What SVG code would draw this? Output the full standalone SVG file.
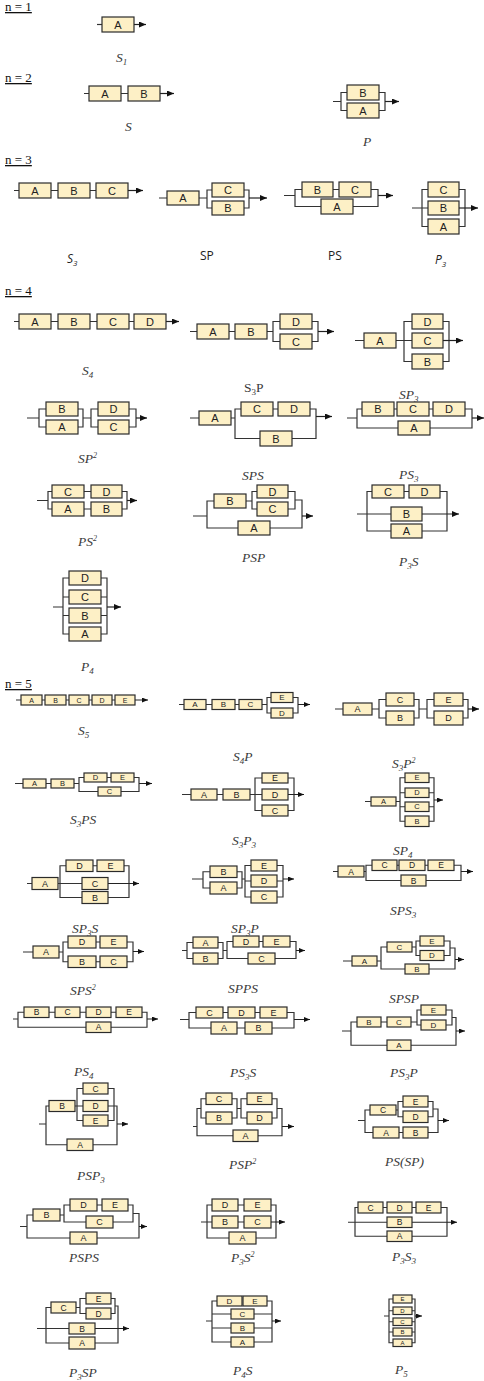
<svg xmlns="http://www.w3.org/2000/svg" width="484" height="1381" viewBox="0 0 484 1381">
<style>
.nodes rect{fill:#fdf0c6;stroke:#2b2b2b;stroke-width:1.2}
.nodes text{font-family:"Liberation Sans",Arial,sans-serif;fill:#222;text-anchor:middle;dominant-baseline:central}
.f11 text{font-size:11px}.f9 text{font-size:9px}.f85 text{font-size:8.5px}.f8 text{font-size:8px}.f75 text{font-size:7.5px}.f7 text{font-size:7px}.f6 text{font-size:6px}
.w{fill:none;stroke:#333;stroke-width:1.2}
.a{fill:none;stroke:#222;stroke-width:1.2;marker-end:url(#ah)}
.as{fill:none;stroke:#222;stroke-width:1;marker-end:url(#ahs)}
.lab{font-family:"Liberation Serif","Times New Roman",serif;font-style:italic;font-size:13.5px;fill:#3a3a3a}
.up{font-style:normal}
.hd{font-family:"Liberation Serif","Times New Roman",serif;font-size:13px;fill:#111;text-decoration:underline}
.sl{font-family:"Open Sans","Liberation Sans",sans-serif;font-size:12px;fill:#222}
.it{font-style:italic}
</style>
<defs>
<marker id="ah" markerUnits="userSpaceOnUse" markerWidth="7" markerHeight="6" refX="7" refY="3" orient="auto"><path d="M0,0L7,3L0,6z" fill="#111"/></marker>
<marker id="ahs" markerUnits="userSpaceOnUse" markerWidth="6" markerHeight="5" refX="6" refY="2.5" orient="auto"><path d="M0,0L6,2.5L0,5z" fill="#111"/></marker>
</defs>
<g id="headings">
<text class="hd" x="5" y="11">n = 1</text>
<text class="hd" x="5" y="82">n = 2</text>
<text class="hd" x="5" y="164">n = 3</text>
<text class="hd" x="5" y="295">n = 4</text>
<text class="hd" x="5" y="688">n = 5</text>
</g>
<g id="connectors">
<g id="c-n1-S1"><path class="w" d="M97,24.5H102"/><path class="a" d="M134,24.5H146"/></g>
<g id="c-n2-S"><path class="w" d="M84,93.5H89M121,93.5H128"/><path class="a" d="M160,93.5H174"/></g>
<g id="c-n2-P"><path class="w" d="M333,101.5H341M347,92.5H341V110.5H347M379,92.5H385V110.5H379"/><path class="a" d="M385,101.5H399"/></g>
<g id="c-n3-S3"><path class="w" d="M14,190.5H19M51,190.5H58M90,190.5H96"/><path class="a" d="M128,190.5H143"/></g>
<g id="c-n3-SP"><path class="w" d="M159,198H167M199,198H207M212,190H207V208H212M244,190H249V208H244"/><path class="a" d="M249,198H267"/></g>
<g id="c-n3-PS"><path class="w" d="M284,195.5H295M302,189.5H295V206.5H321M333,189.5H339M371,189.5H378V206.5H353"/><path class="a" d="M378,195.5H393"/></g>
<g id="c-n3-P3"><path class="w" d="M412,208H428M428,189.5H422V226.5H428M459,189.5H465V226.5H459"/><path class="a" d="M459,208H478"/></g>
<g id="c-n4-S4"><path class="w" d="M14,321.5H19M51,321.5H58M90,321.5H97M129,321.5H134"/><path class="a" d="M166,321.5H179"/></g>
<g id="c-n4-S3P"><path class="w" d="M190,331.5H197M229,331.5H235M267,331.5H273M280,321.5H273V341.5H280M312,321.5H318V341.5H312"/><path class="a" d="M318,331.5H334"/></g>
<g id="c-n4-SP3"><path class="w" d="M355,340.5H364M396,340.5H412M412,321.5H404V361.5H412M443,321.5H449V361.5H443"/><path class="a" d="M443,340.5H463"/></g>
<g id="c-n4-SP2"><path class="w" d="M27,418H39M46,409H39V427H46M78,409H83V427H78M83,418H91M98,409H91V427H98M129,409H136V427H129"/><path class="a" d="M136,418H147"/></g>
<g id="c-n4-r2c2"><path class="w" d="M190,418H199M231,418H235M241,409H235V438.5H260M273,409H278M310,409H316V438.5H292"/><path class="a" d="M316,416.5H332"/></g>
<g id="c-n4-r2c3"><path class="w" d="M347,418H357M362,409H357V428H398M394,409H397M429,409H433M465,409H472V428H430"/><path class="a" d="M472,418H484"/></g>
<g id="c-n4-PS2"><path class="w" d="M37,500.5H48M52,491.5H48V509H52M84,491.5H91M84,509H91M122,491.5H127V509H122"/><path class="a" d="M127,500.5H137"/></g>
<g id="c-n4-SPS"><path class="w" d="M193,516H207M214,501H207V528H238M246,501H252M257,491.5H252V509H257M288,491.5H295V509H288M295,500H302V528H270"/><path class="a" d="M302,516H313"/></g>
<g id="c-n4-PS3"><path class="w" d="M357,514H391M372,491.5H367V531H391M404,491.5H409M440,491.5H447V531H422"/><path class="a" d="M422,514H459"/></g>
<g id="c-n4-P4"><path class="w" d="M53,607H63M69,578H63V634H69M63,597H69M63,615.5H69M101,578H107V634H101M101,597H107M101,615.5H107"/><path class="a" d="M107,607H121"/></g>
<g id="c-n5-S5"><path class="w" d="M16,700H21M42,700H45M66,700H69M89,700H92M112,700H115"/><path class="as" d="M135,700H148"/></g>
<g id="c-n5-S4P"><path class="w" d="M179,704.5H184M206,704.5H212M235,704.5H239M262,704.5H267M271,697.5H267V713H271M293,697.5H298V713H293"/><path class="as" d="M298,704.5H310"/></g>
<g id="c-n5-r1c3"><path class="w" d="M335,709H343M372,709H379M386,699.5H379V718H386M414,699.5H419V718H414M419,709H427M434,699.5H427V718H434M463,699.5H468V718H463"/><path class="a" d="M468,709H479"/></g>
<g id="c-n5-S3PS"><path class="w" d="M15,783.5H23M46,783.5H51M74,783.5H79M84,777.5H79V791.5H98M107,777.5H111M134,777.5H139V791.5H121"/><path class="as" d="M139,783.5H152"/></g>
<g id="c-n5-S3P3"><path class="w" d="M182,794.5H191M217,794.5H223M250,794.5H262M262,778H255V810.5H262M288,778H294V810.5H288"/><path class="as" d="M288,794.5H304"/></g>
<g id="c-n5-S3P2"><path class="w" d="M365,801.5H371M396,801.5H400M405,777.75H400V821.25H405M400,792.75H405M400,806.75H405M429,777.75H434V821.25H429M429,792.75H434M429,806.75H434"/><path class="as" d="M434,800H443"/></g>
<g id="c-n5-SP3S"><path class="w" d="M27,883.5H32M58,883.5H82M66,865.75H60V897.5H82M93,865.75H97M124,865.75H129V897.5H108"/><path class="as" d="M108,883.5H139"/></g>
<g id="c-n5-SP3P"><path class="w" d="M192,879H203M210,871.75H203V888H210M237,871.75H242V888H237M242,879H245M251,865.5H245V897H251M245,881H251M277,865.5H283V897H277M277,881H283"/><path class="as" d="M283,879H294"/></g>
<g id="c-n5-SPS3"><path class="w" d="M333,871.5H338M364,871.5H366M372,865.25H366V880.5H401M397,865.25H399M425,865.25H428M454,865.25H461V880.5H426"/><path class="as" d="M461,871.5H473"/></g>
<g id="c-n5-SPS2"><path class="w" d="M23,952H33M59,952H63M68,942H63V961.75H68M96,942H100M96,961.75H100M127,942H133V961.75H127"/><path class="as" d="M133,951.5H144"/></g>
<g id="c-n5-SPPS"><path class="w" d="M182,950.5H187M193,942.5H187V958.5H193M218,942.5H223V958.5H218M223,950.5H227M233,941.5H227V958.5H248M259,941.5H263M290,941.5H296V958.5H275"/><path class="as" d="M296,950.5H305"/></g>
<g id="c-n5-SPSP"><path class="w" d="M343,961H352M377,961H381M387,947H381V969H405M412,947H416M420,941H416V955.5H420M444,941H450V955.5H444M450,948H455V969H429"/><path class="as" d="M455,959.5H464"/></g>
<g id="c-n5-PS4"><path class="w" d="M13,1019H18M24,1012.25H18V1027.25H86M49,1012.25H55M80,1012.25H86M111,1012.25H116M142,1012.25H147V1027.25H111"/><path class="as" d="M147,1019H158"/></g>
<g id="c-n5-PS3S"><path class="w" d="M180,1019.5H189M196,1012.5H189V1028H211M223,1012.5H228M255,1012.5H260M237,1028H245M287,1012.5H294V1028H272"/><path class="as" d="M294,1019.5H310"/></g>
<g id="c-n5-PS3P"><path class="w" d="M342,1031H351M357,1022H351V1045.25H387M381,1022H387M411,1022H417M421,1010H417V1025H421M446,1010H452V1025H446M452,1017.5H456V1045.25H411"/><path class="as" d="M456,1031H465"/></g>
<g id="c-n5-PSP3"><path class="w" d="M39,1124H46M49,1106H46V1144.75H67M75,1106H83M83,1088.5H77V1120.5H83M108,1088.5H114V1120.5H108M108,1106H117V1144.75H93"/><path class="as" d="M117,1124H128"/></g>
<g id="c-n5-PSP2"><path class="w" d="M193,1126.5H197M201,1108.5H197V1135.75H233M206,1098.75H201V1118H206M232,1098.75H237V1118H232M237,1108.5H241M247,1098.75H241V1118H247M272,1098.75H277V1118H272M277,1108.5H282V1135.75H258"/><path class="as" d="M282,1126.5H294"/></g>
<g id="c-n5-PSSP"><path class="w" d="M358,1120.5H365M370,1110H365V1132.5H373M396,1110H398M403,1101.5H398V1116.75H403M428,1101.5H433V1116.75H428M433,1109H438V1132.5H428M399,1132.5H403"/><path class="as" d="M438,1120.5H449"/></g>
<g id="c-n5-PSPS"><path class="w" d="M20,1226.5H27M33,1215H27V1238H70M60,1215H64M70,1205H64V1222H86M97,1205H102M128,1205H133V1222H113M133,1213.5H139V1238H97"/><path class="as" d="M139,1226.5H147"/></g>
<g id="c-n5-P3S2"><path class="w" d="M201,1222H212M212,1205H207V1238H229M238,1205H244M238,1222H244M271,1205H276V1238H256"/><path class="as" d="M271,1222H285"/></g>
<g id="c-n5-P3S3"><path class="w" d="M348,1222.25H387M358,1207.5H355V1236.25H387M383,1207.5H387M412,1207.5H416M441,1207.5H447V1236.25H412"/><path class="as" d="M412,1222.25H457"/></g>
<g id="c-n5-P3SP"><path class="w" d="M37,1328.5H69M51,1307.5H46V1343H69M76,1307.5H80M86,1298.5H80V1313.5H86M111,1298.5H115V1313.5H111M115,1306H118V1343H95"/><path class="as" d="M95,1328.5H129"/></g>
<g id="c-n5-P4S"><path class="w" d="M206,1321H212M217,1301H212V1342H231M212,1314H231M212,1328H231M267,1301H272V1342H254M254,1314H272M254,1328H272"/><path class="as" d="M272,1321H281"/></g>
<g id="c-n5-P5"><path class="w" d="M384,1316H389M393,1299H389V1342.75H393M389,1310.75H393M389,1321.75H393M389,1332H393M412,1299H415V1342.75H412M412,1310.75H415M412,1321.75H415M412,1332H415"/><path class="as" d="M415,1316H422"/></g>
</g>
<g class="nodes">
<g id="d-n1-S1" class="f11">
<g id="n1S1-A"><rect x="102" y="17" width="32" height="15"/><text x="118" y="24.5">A</text></g>
</g>
<g id="d-n2-S" class="f11">
<g id="n2S-A"><rect x="89" y="86" width="32" height="15"/><text x="105" y="93.5">A</text></g>
<g id="n2S-B"><rect x="128" y="86" width="32" height="15"/><text x="144" y="93.5">B</text></g>
</g>
<g id="d-n2-P" class="f11">
<g id="n2P-B"><rect x="347" y="85" width="32" height="15"/><text x="363" y="92.5">B</text></g>
<g id="n2P-A"><rect x="347" y="103" width="32" height="15"/><text x="363" y="110.5">A</text></g>
</g>
<g id="d-n3-S3" class="f11">
<g id="n3S3-A"><rect x="19" y="183" width="32" height="15"/><text x="35" y="190.5">A</text></g>
<g id="n3S3-B"><rect x="58" y="183" width="32" height="15"/><text x="74" y="190.5">B</text></g>
<g id="n3S3-C"><rect x="96" y="183" width="32" height="15"/><text x="112" y="190.5">C</text></g>
</g>
<g id="d-n3-SP" class="f11">
<g id="n3SP-A"><rect x="167" y="191" width="32" height="14"/><text x="183" y="198">A</text></g>
<g id="n3SP-C"><rect x="212" y="183" width="32" height="14"/><text x="228" y="190">C</text></g>
<g id="n3SP-B"><rect x="212" y="201" width="32" height="14"/><text x="228" y="208">B</text></g>
</g>
<g id="d-n3-PS" class="f11">
<g id="n3PS-B"><rect x="302" y="182" width="31" height="15"/><text x="317.5" y="189.5">B</text></g>
<g id="n3PS-C"><rect x="339" y="182" width="32" height="15"/><text x="355" y="189.5">C</text></g>
<g id="n3PS-A"><rect x="321" y="199" width="32" height="15"/><text x="337" y="206.5">A</text></g>
</g>
<g id="d-n3-P3" class="f11">
<g id="n3P3-C"><rect x="428" y="182" width="31" height="15"/><text x="443.5" y="189.5">C</text></g>
<g id="n3P3-B"><rect x="428" y="201" width="31" height="14"/><text x="443.5" y="208">B</text></g>
<g id="n3P3-A"><rect x="428" y="219" width="31" height="15"/><text x="443.5" y="226.5">A</text></g>
</g>
<g id="d-n4-S4" class="f11">
<g id="n4S4-A"><rect x="19" y="314" width="32" height="15"/><text x="35" y="321.5">A</text></g>
<g id="n4S4-B"><rect x="58" y="314" width="32" height="15"/><text x="74" y="321.5">B</text></g>
<g id="n4S4-C"><rect x="97" y="314" width="32" height="15"/><text x="113" y="321.5">C</text></g>
<g id="n4S4-D"><rect x="134" y="314" width="32" height="15"/><text x="150" y="321.5">D</text></g>
</g>
<g id="d-n4-S3P" class="f11">
<g id="n4S3P-A"><rect x="197" y="324" width="32" height="15"/><text x="213" y="331.5">A</text></g>
<g id="n4S3P-B"><rect x="235" y="324" width="32" height="15"/><text x="251" y="331.5">B</text></g>
<g id="n4S3P-D"><rect x="280" y="314" width="32" height="15"/><text x="296" y="321.5">D</text></g>
<g id="n4S3P-C"><rect x="280" y="334" width="32" height="15"/><text x="296" y="341.5">C</text></g>
</g>
<g id="d-n4-SP3" class="f11">
<g id="n4SP3-A"><rect x="364" y="333" width="32" height="15"/><text x="380" y="340.5">A</text></g>
<g id="n4SP3-D"><rect x="412" y="314" width="31" height="15"/><text x="427.5" y="321.5">D</text></g>
<g id="n4SP3-C"><rect x="412" y="333" width="31" height="15"/><text x="427.5" y="340.5">C</text></g>
<g id="n4SP3-B"><rect x="412" y="354" width="31" height="15"/><text x="427.5" y="361.5">B</text></g>
</g>
<g id="d-n4-SP2" class="f11">
<g id="n4SP2-B"><rect x="46" y="402" width="32" height="14"/><text x="62" y="409">B</text></g>
<g id="n4SP2-A"><rect x="46" y="420" width="32" height="14"/><text x="62" y="427">A</text></g>
<g id="n4SP2-D"><rect x="98" y="402" width="31" height="14"/><text x="113.5" y="409">D</text></g>
<g id="n4SP2-C"><rect x="98" y="420" width="31" height="14"/><text x="113.5" y="427">C</text></g>
</g>
<g id="d-n4-r2c2" class="f11">
<g id="n4r2c2-A"><rect x="199" y="411" width="32" height="14"/><text x="215" y="418">A</text></g>
<g id="n4r2c2-C"><rect x="241" y="402" width="32" height="14"/><text x="257" y="409">C</text></g>
<g id="n4r2c2-D"><rect x="278" y="402" width="32" height="14"/><text x="294" y="409">D</text></g>
<g id="n4r2c2-B"><rect x="260" y="431" width="32" height="15"/><text x="276" y="438.5">B</text></g>
</g>
<g id="d-n4-r2c3" class="f11">
<g id="n4r2c3-B"><rect x="362" y="402" width="32" height="14"/><text x="378" y="409">B</text></g>
<g id="n4r2c3-C"><rect x="397" y="402" width="32" height="14"/><text x="413" y="409">C</text></g>
<g id="n4r2c3-D"><rect x="433" y="402" width="32" height="14"/><text x="449" y="409">D</text></g>
<g id="n4r2c3-A"><rect x="398" y="421" width="32" height="14"/><text x="414" y="428">A</text></g>
</g>
<g id="d-n4-PS2" class="f11">
<g id="n4PS2-C"><rect x="52" y="485" width="32" height="13"/><text x="68" y="491.5">C</text></g>
<g id="n4PS2-D"><rect x="91" y="485" width="31" height="13"/><text x="106.5" y="491.5">D</text></g>
<g id="n4PS2-A"><rect x="52" y="502" width="32" height="14"/><text x="68" y="509">A</text></g>
<g id="n4PS2-B"><rect x="91" y="502" width="31" height="14"/><text x="106.5" y="509">B</text></g>
</g>
<g id="d-n4-SPS" class="f11">
<g id="n4SPS-B"><rect x="214" y="494" width="32" height="14"/><text x="230" y="501">B</text></g>
<g id="n4SPS-D"><rect x="257" y="485" width="31" height="13"/><text x="272.5" y="491.5">D</text></g>
<g id="n4SPS-C"><rect x="257" y="502" width="31" height="14"/><text x="272.5" y="509">C</text></g>
<g id="n4SPS-A"><rect x="238" y="521" width="32" height="14"/><text x="254" y="528">A</text></g>
</g>
<g id="d-n4-PS3" class="f11">
<g id="n4PS3-C"><rect x="372" y="485" width="32" height="13"/><text x="388" y="491.5">C</text></g>
<g id="n4PS3-D"><rect x="409" y="485" width="31" height="13"/><text x="424.5" y="491.5">D</text></g>
<g id="n4PS3-B"><rect x="391" y="507" width="31" height="14"/><text x="406.5" y="514">B</text></g>
<g id="n4PS3-A"><rect x="391" y="524" width="31" height="14"/><text x="406.5" y="531">A</text></g>
</g>
<g id="d-n4-P4" class="f11">
<g id="n4P4-D"><rect x="69" y="571" width="32" height="14"/><text x="85" y="578">D</text></g>
<g id="n4P4-C"><rect x="69" y="590" width="32" height="14"/><text x="85" y="597">C</text></g>
<g id="n4P4-B"><rect x="69" y="608" width="32" height="15"/><text x="85" y="615.5">B</text></g>
<g id="n4P4-A"><rect x="69" y="627" width="32" height="14"/><text x="85" y="634">A</text></g>
</g>
<g id="d-n5-S5" class="f7">
<g id="n5S5-A"><rect x="21" y="695" width="21" height="10"/><text x="31.5" y="700">A</text></g>
<g id="n5S5-B"><rect x="45" y="695" width="21" height="10"/><text x="55.5" y="700">B</text></g>
<g id="n5S5-C"><rect x="69" y="695" width="20" height="10"/><text x="79" y="700">C</text></g>
<g id="n5S5-D"><rect x="92" y="695" width="20" height="10"/><text x="102" y="700">D</text></g>
<g id="n5S5-E"><rect x="115" y="695" width="20" height="10"/><text x="125" y="700">E</text></g>
</g>
<g id="d-n5-S4P" class="f8">
<g id="n5S4P-A"><rect x="184" y="699.5" width="22" height="10"/><text x="195" y="704.5">A</text></g>
<g id="n5S4P-B"><rect x="212" y="699.5" width="23" height="10"/><text x="223.5" y="704.5">B</text></g>
<g id="n5S4P-C"><rect x="239" y="699.5" width="23" height="10"/><text x="250.5" y="704.5">C</text></g>
<g id="n5S4P-E"><rect x="271" y="692.5" width="22" height="10"/><text x="282" y="697.5">E</text></g>
<g id="n5S4P-D"><rect x="271" y="708" width="22" height="10"/><text x="282" y="713">D</text></g>
</g>
<g id="d-n5-r1c3" class="f9">
<g id="n5r1c3-A"><rect x="343" y="703" width="29" height="12"/><text x="357.5" y="709">A</text></g>
<g id="n5r1c3-C"><rect x="386" y="693" width="28" height="13"/><text x="400" y="699.5">C</text></g>
<g id="n5r1c3-B"><rect x="386" y="711" width="28" height="14"/><text x="400" y="718">B</text></g>
<g id="n5r1c3-E"><rect x="434" y="693" width="29" height="13"/><text x="448.5" y="699.5">E</text></g>
<g id="n5r1c3-D"><rect x="434" y="711" width="29" height="14"/><text x="448.5" y="718">D</text></g>
</g>
<g id="d-n5-S3PS" class="f75">
<g id="n5S3PS-A"><rect x="23" y="779" width="23" height="9"/><text x="34.5" y="783.5">A</text></g>
<g id="n5S3PS-B"><rect x="51" y="779" width="23" height="9"/><text x="62.5" y="783.5">B</text></g>
<g id="n5S3PS-D"><rect x="84" y="773" width="23" height="9"/><text x="95.5" y="777.5">D</text></g>
<g id="n5S3PS-E"><rect x="111" y="773" width="23" height="9"/><text x="122.5" y="777.5">E</text></g>
<g id="n5S3PS-C"><rect x="98" y="787" width="23" height="9"/><text x="109.5" y="791.5">C</text></g>
</g>
<g id="d-n5-S3P3" class="f9">
<g id="n5S3P3-A"><rect x="191" y="789" width="26" height="11"/><text x="204" y="794.5">A</text></g>
<g id="n5S3P3-B"><rect x="223" y="789" width="27" height="11"/><text x="236.5" y="794.5">B</text></g>
<g id="n5S3P3-E"><rect x="262" y="773" width="26" height="10"/><text x="275" y="778">E</text></g>
<g id="n5S3P3-D"><rect x="262" y="789" width="26" height="11"/><text x="275" y="794.5">D</text></g>
<g id="n5S3P3-C"><rect x="262" y="805" width="26" height="11"/><text x="275" y="810.5">C</text></g>
</g>
<g id="d-n5-S3P2" class="f75">
<g id="n5S3P2-A"><rect x="371" y="797" width="25" height="9"/><text x="383.5" y="801.5">A</text></g>
<g id="n5S3P2-E"><rect x="405" y="773" width="24" height="9.5"/><text x="417" y="777.75">E</text></g>
<g id="n5S3P2-D"><rect x="405" y="788" width="24" height="9.5"/><text x="417" y="792.75">D</text></g>
<g id="n5S3P2-C"><rect x="405" y="802" width="24" height="9.5"/><text x="417" y="806.75">C</text></g>
<g id="n5S3P2-B"><rect x="405" y="816" width="24" height="10.5"/><text x="417" y="821.25">B</text></g>
</g>
<g id="d-n5-SP3S" class="f9">
<g id="n5SP3S-A"><rect x="32" y="877.5" width="26" height="12"/><text x="45" y="883.5">A</text></g>
<g id="n5SP3S-D"><rect x="66" y="860" width="27" height="11.5"/><text x="79.5" y="865.75">D</text></g>
<g id="n5SP3S-E"><rect x="97" y="860" width="27" height="11.5"/><text x="110.5" y="865.75">E</text></g>
<g id="n5SP3S-C"><rect x="82" y="877.5" width="26" height="12"/><text x="95" y="883.5">C</text></g>
<g id="n5SP3S-B"><rect x="82" y="891.5" width="26" height="12"/><text x="95" y="897.5">B</text></g>
</g>
<g id="d-n5-SP3P" class="f9">
<g id="n5SP3P-B"><rect x="210" y="866" width="27" height="11.5"/><text x="223.5" y="871.75">B</text></g>
<g id="n5SP3P-A"><rect x="210" y="882" width="27" height="12"/><text x="223.5" y="888">A</text></g>
<g id="n5SP3P-E"><rect x="251" y="860" width="26" height="11"/><text x="264" y="865.5">E</text></g>
<g id="n5SP3P-D"><rect x="251" y="875" width="26" height="12"/><text x="264" y="881">D</text></g>
<g id="n5SP3P-C"><rect x="251" y="891" width="26" height="12"/><text x="264" y="897">C</text></g>
</g>
<g id="d-n5-SPS3" class="f85">
<g id="n5SPS3-A"><rect x="338" y="866" width="26" height="11"/><text x="351" y="871.5">A</text></g>
<g id="n5SPS3-C"><rect x="372" y="860" width="25" height="10.5"/><text x="384.5" y="865.25">C</text></g>
<g id="n5SPS3-D"><rect x="399" y="860" width="26" height="10.5"/><text x="412" y="865.25">D</text></g>
<g id="n5SPS3-E"><rect x="428" y="860" width="26" height="10.5"/><text x="441" y="865.25">E</text></g>
<g id="n5SPS3-B"><rect x="401" y="875" width="25" height="11"/><text x="413.5" y="880.5">B</text></g>
</g>
<g id="d-n5-SPS2" class="f9">
<g id="n5SPS2-A"><rect x="33" y="946" width="26" height="12"/><text x="46" y="952">A</text></g>
<g id="n5SPS2-D"><rect x="68" y="936" width="28" height="12"/><text x="82" y="942">D</text></g>
<g id="n5SPS2-E"><rect x="100" y="936" width="27" height="12"/><text x="113.5" y="942">E</text></g>
<g id="n5SPS2-B"><rect x="68" y="956" width="28" height="11.5"/><text x="82" y="961.75">B</text></g>
<g id="n5SPS2-C"><rect x="100" y="956" width="27" height="11.5"/><text x="113.5" y="961.75">C</text></g>
</g>
<g id="d-n5-SPPS" class="f9">
<g id="n5SPPS-A"><rect x="193" y="937" width="25" height="11"/><text x="205.5" y="942.5">A</text></g>
<g id="n5SPPS-B"><rect x="193" y="953" width="25" height="11"/><text x="205.5" y="958.5">B</text></g>
<g id="n5SPPS-D"><rect x="233" y="936" width="26" height="11"/><text x="246" y="941.5">D</text></g>
<g id="n5SPPS-E"><rect x="263" y="936" width="27" height="11"/><text x="276.5" y="941.5">E</text></g>
<g id="n5SPPS-C"><rect x="248" y="953" width="27" height="11"/><text x="261.5" y="958.5">C</text></g>
</g>
<g id="d-n5-SPSP" class="f8">
<g id="n5SPSP-A"><rect x="352" y="956" width="25" height="10"/><text x="364.5" y="961">A</text></g>
<g id="n5SPSP-C"><rect x="387" y="942" width="25" height="10"/><text x="399.5" y="947">C</text></g>
<g id="n5SPSP-E"><rect x="420" y="936" width="24" height="10"/><text x="432" y="941">E</text></g>
<g id="n5SPSP-D"><rect x="420" y="950.5" width="24" height="10"/><text x="432" y="955.5">D</text></g>
<g id="n5SPSP-B"><rect x="405" y="964" width="24" height="10"/><text x="417" y="969">B</text></g>
</g>
<g id="d-n5-PS4" class="f85">
<g id="n5PS4-B"><rect x="24" y="1007" width="25" height="10.5"/><text x="36.5" y="1012.25">B</text></g>
<g id="n5PS4-C"><rect x="55" y="1007" width="25" height="10.5"/><text x="67.5" y="1012.25">C</text></g>
<g id="n5PS4-D"><rect x="86" y="1007" width="25" height="10.5"/><text x="98.5" y="1012.25">D</text></g>
<g id="n5PS4-E"><rect x="116" y="1007" width="26" height="10.5"/><text x="129" y="1012.25">E</text></g>
<g id="n5PS4-A"><rect x="86" y="1022" width="25" height="10.5"/><text x="98.5" y="1027.25">A</text></g>
</g>
<g id="d-n5-PS3S" class="f9">
<g id="n5PS3S-C"><rect x="196" y="1007" width="27" height="11"/><text x="209.5" y="1012.5">C</text></g>
<g id="n5PS3S-D"><rect x="228" y="1007" width="27" height="11"/><text x="241.5" y="1012.5">D</text></g>
<g id="n5PS3S-E"><rect x="260" y="1007" width="27" height="11"/><text x="273.5" y="1012.5">E</text></g>
<g id="n5PS3S-A"><rect x="211" y="1022" width="26" height="12"/><text x="224" y="1028">A</text></g>
<g id="n5PS3S-B"><rect x="245" y="1022" width="27" height="12"/><text x="258.5" y="1028">B</text></g>
</g>
<g id="d-n5-PS3P" class="f8">
<g id="n5PS3P-B"><rect x="357" y="1017" width="24" height="10"/><text x="369" y="1022">B</text></g>
<g id="n5PS3P-C"><rect x="387" y="1017" width="24" height="10"/><text x="399" y="1022">C</text></g>
<g id="n5PS3P-E"><rect x="421" y="1005" width="25" height="10"/><text x="433.5" y="1010">E</text></g>
<g id="n5PS3P-D"><rect x="421" y="1020" width="25" height="10"/><text x="433.5" y="1025">D</text></g>
<g id="n5PS3P-A"><rect x="387" y="1040" width="24" height="10.5"/><text x="399" y="1045.25">A</text></g>
</g>
<g id="d-n5-PSP3" class="f85">
<g id="n5PSP3-B"><rect x="49" y="1100.5" width="26" height="11"/><text x="62" y="1106">B</text></g>
<g id="n5PSP3-C"><rect x="83" y="1083" width="25" height="11"/><text x="95.5" y="1088.5">C</text></g>
<g id="n5PSP3-D"><rect x="83" y="1100.5" width="25" height="11"/><text x="95.5" y="1106">D</text></g>
<g id="n5PSP3-E"><rect x="83" y="1115" width="25" height="11"/><text x="95.5" y="1120.5">E</text></g>
<g id="n5PSP3-A"><rect x="67" y="1139" width="26" height="11.5"/><text x="80" y="1144.75">A</text></g>
</g>
<g id="d-n5-PSP2" class="f9">
<g id="n5PSP2-C"><rect x="206" y="1093" width="26" height="11.5"/><text x="219" y="1098.75">C</text></g>
<g id="n5PSP2-B"><rect x="206" y="1112" width="26" height="12"/><text x="219" y="1118">B</text></g>
<g id="n5PSP2-E"><rect x="247" y="1093" width="25" height="11.5"/><text x="259.5" y="1098.75">E</text></g>
<g id="n5PSP2-D"><rect x="247" y="1112" width="25" height="12"/><text x="259.5" y="1118">D</text></g>
<g id="n5PSP2-A"><rect x="233" y="1130" width="25" height="11.5"/><text x="245.5" y="1135.75">A</text></g>
</g>
<g id="d-n5-PSSP" class="f85">
<g id="n5PSSP-C"><rect x="370" y="1105" width="26" height="10"/><text x="383" y="1110">C</text></g>
<g id="n5PSSP-E"><rect x="403" y="1096" width="25" height="11"/><text x="415.5" y="1101.5">E</text></g>
<g id="n5PSSP-D"><rect x="403" y="1111" width="25" height="11.5"/><text x="415.5" y="1116.75">D</text></g>
<g id="n5PSSP-A"><rect x="373" y="1127" width="26" height="11"/><text x="386" y="1132.5">A</text></g>
<g id="n5PSSP-B"><rect x="403" y="1127" width="25" height="11"/><text x="415.5" y="1132.5">B</text></g>
</g>
<g id="d-n5-PSPS" class="f9">
<g id="n5PSPS-B"><rect x="33" y="1209" width="27" height="12"/><text x="46.5" y="1215">B</text></g>
<g id="n5PSPS-D"><rect x="70" y="1199" width="27" height="12"/><text x="83.5" y="1205">D</text></g>
<g id="n5PSPS-E"><rect x="102" y="1199" width="26" height="12"/><text x="115" y="1205">E</text></g>
<g id="n5PSPS-C"><rect x="86" y="1216" width="27" height="12"/><text x="99.5" y="1222">C</text></g>
<g id="n5PSPS-A"><rect x="70" y="1232" width="27" height="12"/><text x="83.5" y="1238">A</text></g>
</g>
<g id="d-n5-P3S2" class="f9">
<g id="n5P3S2-D"><rect x="212" y="1199" width="26" height="12"/><text x="225" y="1205">D</text></g>
<g id="n5P3S2-E"><rect x="244" y="1199" width="27" height="12"/><text x="257.5" y="1205">E</text></g>
<g id="n5P3S2-B"><rect x="212" y="1216" width="26" height="12"/><text x="225" y="1222">B</text></g>
<g id="n5P3S2-C"><rect x="244" y="1216" width="27" height="12"/><text x="257.5" y="1222">C</text></g>
<g id="n5P3S2-A"><rect x="229" y="1232" width="27" height="12"/><text x="242.5" y="1238">A</text></g>
</g>
<g id="d-n5-P3S3" class="f85">
<g id="n5P3S3-C"><rect x="358" y="1202" width="25" height="11"/><text x="370.5" y="1207.5">C</text></g>
<g id="n5P3S3-D"><rect x="387" y="1202" width="25" height="11"/><text x="399.5" y="1207.5">D</text></g>
<g id="n5P3S3-E"><rect x="416" y="1202" width="25" height="11"/><text x="428.5" y="1207.5">E</text></g>
<g id="n5P3S3-B"><rect x="387" y="1217" width="25" height="10.5"/><text x="399.5" y="1222.25">B</text></g>
<g id="n5P3S3-A"><rect x="387" y="1231" width="25" height="10.5"/><text x="399.5" y="1236.25">A</text></g>
</g>
<g id="d-n5-P3SP" class="f85">
<g id="n5P3SP-C"><rect x="51" y="1302" width="25" height="11"/><text x="63.5" y="1307.5">C</text></g>
<g id="n5P3SP-E"><rect x="86" y="1293" width="25" height="11"/><text x="98.5" y="1298.5">E</text></g>
<g id="n5P3SP-D"><rect x="86" y="1308" width="25" height="11"/><text x="98.5" y="1313.5">D</text></g>
<g id="n5P3SP-B"><rect x="69" y="1323" width="26" height="11"/><text x="82" y="1328.5">B</text></g>
<g id="n5P3SP-A"><rect x="69" y="1337" width="26" height="12"/><text x="82" y="1343">A</text></g>
</g>
<g id="d-n5-P4S" class="f8">
<g id="n5P4S-D"><rect x="217" y="1296" width="25" height="10"/><text x="229.5" y="1301">D</text></g>
<g id="n5P4S-E"><rect x="243" y="1296" width="24" height="10"/><text x="255" y="1301">E</text></g>
<g id="n5P4S-C"><rect x="231" y="1309" width="23" height="10"/><text x="242.5" y="1314">C</text></g>
<g id="n5P4S-B"><rect x="231" y="1323" width="23" height="10"/><text x="242.5" y="1328">B</text></g>
<g id="n5P4S-A"><rect x="231" y="1337" width="23" height="10"/><text x="242.5" y="1342">A</text></g>
</g>
<g id="d-n5-P5" class="f6">
<g id="n5P5-E"><rect x="393" y="1295" width="19" height="8"/><text x="402.5" y="1299">E</text></g>
<g id="n5P5-D"><rect x="393" y="1307" width="19" height="7.5"/><text x="402.5" y="1310.75">D</text></g>
<g id="n5P5-C"><rect x="393" y="1318" width="19" height="7.5"/><text x="402.5" y="1321.75">C</text></g>
<g id="n5P5-B"><rect x="393" y="1328" width="19" height="8"/><text x="402.5" y="1332">B</text></g>
<g id="n5P5-A"><rect x="393" y="1339" width="19" height="7.5"/><text x="402.5" y="1342.75">A</text></g>
</g>
</g>
<g id="labels">
<text class="lab" x="116" y="62">S<tspan font-size="9" dy="3">1</tspan></text>
<text class="lab" x="125" y="131">S</text>
<text class="lab" x="363" y="146">P</text>
<text class="sl it" x="67" y="263">S<tspan font-size="8" dy="3">3</tspan></text>
<text class="sl" x="200" y="260">SP</text>
<text class="sl" x="328" y="260">PS</text>
<text class="sl it" x="435" y="264">P<tspan font-size="8" dy="3">3</tspan></text>
<text class="lab" x="82" y="375">S<tspan font-size="9" dy="3">4</tspan></text>
<text class="lab up" x="244" y="392">S<tspan font-size="9" dy="3">3</tspan><tspan dy="-3">P</tspan></text>
<text class="lab" x="399" y="399">SP<tspan font-size="9" dy="3">3</tspan></text>
<text class="lab" x="78" y="463">SP<tspan font-size="8" dy="-5">2</tspan></text>
<text class="lab" x="242" y="480">SPS</text>
<text class="lab" x="399" y="479">PS<tspan font-size="9" dy="3">3</tspan></text>
<text class="lab" x="78" y="546">PS<tspan font-size="8" dy="-5">2</tspan></text>
<text class="lab" x="242" y="562">PSP</text>
<text class="lab" x="399" y="566">P<tspan font-size="9" dy="3">3</tspan><tspan dy="-3">S</tspan></text>
<text class="lab" x="81" y="671">P<tspan font-size="9" dy="3">4</tspan></text>
<text class="lab" x="78" y="735">S<tspan font-size="9" dy="3">5</tspan></text>
<text class="lab" x="233" y="761">S<tspan font-size="9" dy="3">4</tspan><tspan dy="-3">P</tspan></text>
<text class="lab" x="392" y="768">S<tspan font-size="9" dy="3">3</tspan><tspan dy="-3">P</tspan><tspan font-size="8" dy="-5">2</tspan></text>
<text class="lab" x="70" y="824">S<tspan font-size="9" dy="3">3</tspan><tspan dy="-3">PS</tspan></text>
<text class="lab" x="232" y="845">S<tspan font-size="9" dy="3">3</tspan><tspan dy="-3">P</tspan><tspan font-size="9" dy="3">3</tspan></text>
<text class="lab" x="393" y="855">SP<tspan font-size="9" dy="3">4</tspan></text>
<text class="lab" x="72" y="933">SP<tspan font-size="9" dy="3">3</tspan><tspan dy="-3">S</tspan></text>
<text class="lab" x="231" y="933">SP<tspan font-size="9" dy="3">3</tspan><tspan dy="-3">P</tspan></text>
<text class="lab" x="390" y="915">SPS<tspan font-size="9" dy="3">3</tspan></text>
<text class="lab" x="70" y="995">SPS<tspan font-size="8" dy="-5">2</tspan></text>
<text class="lab" x="228" y="993">SPPS</text>
<text class="lab" x="389" y="1003">SPSP</text>
<text class="lab" x="74" y="1076">PS<tspan font-size="9" dy="3">4</tspan></text>
<text class="lab" x="230" y="1077">PS<tspan font-size="9" dy="3">3</tspan><tspan dy="-3">S</tspan></text>
<text class="lab" x="390" y="1077">PS<tspan font-size="9" dy="3">3</tspan><tspan dy="-3">P</tspan></text>
<text class="lab" x="77" y="1180">PSP<tspan font-size="9" dy="3">3</tspan></text>
<text class="lab" x="229" y="1169">PSP<tspan font-size="8" dy="-5">2</tspan></text>
<text class="lab" x="385" y="1166">PS(SP)</text>
<text class="lab" x="69" y="1262">PSPS</text>
<text class="lab" x="231" y="1262">P<tspan font-size="9" dy="3">3</tspan><tspan dy="-3">S</tspan><tspan font-size="8" dy="-5">2</tspan></text>
<text class="lab" x="392" y="1261">P<tspan font-size="9" dy="3">3</tspan><tspan dy="-3">S</tspan><tspan font-size="9" dy="3">3</tspan></text>
<text class="lab" x="69" y="1377">P<tspan font-size="9" dy="3">3</tspan><tspan dy="-3">SP</tspan></text>
<text class="lab" x="233" y="1375">P<tspan font-size="9" dy="3">4</tspan><tspan dy="-3">S</tspan></text>
<text class="lab" x="395" y="1374">P<tspan font-size="9" dy="3">5</tspan></text>
</g>
</svg>
